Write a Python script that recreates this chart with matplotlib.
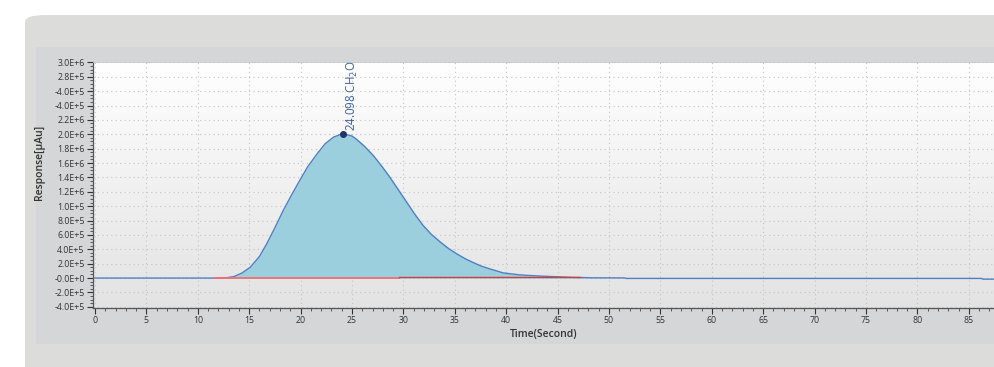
import matplotlib
matplotlib.use("Agg")
import matplotlib.pyplot as plt
import numpy as np
from matplotlib.patches import FancyBboxPatch, Rectangle
from matplotlib.colors import LinearSegmentedColormap
from matplotlib.ticker import MultipleLocator

plt.rcParams['font.family'] = ['Open Sans', 'DejaVu Sans']

# signal (time in s, response in uAu)
time = [0, 12.0, 12.8, 13.5, 14.3, 15.1, 16.0, 16.7, 17.5, 18.3, 19.1, 19.9,
        20.7, 21.6, 22.4, 23.2, 24.1, 25.0, 25.4, 26.2, 27.1, 27.9, 28.7,
        29.5, 30.3, 31.1, 31.9, 32.7, 33.6, 34.4, 35.2, 36.0, 36.8, 37.6,
        38.4, 39.7, 41.3, 43.0, 44.6, 46.2, 48.5, 51.5, 51.7, 86.2, 86.4, 87.6]
response = [0, 0, 5e3, 2e4, 7e4, 1.5e5, 3.0e5, 4.75e5, 7.0e5, 9.37e5, 1.15e6,
            1.354e6, 1.55e6, 1.727e6, 1.87e6, 1.96e6, 2.01e6, 1.975e6, 1.935e6,
            1.835e6, 1.70e6, 1.555e6, 1.40e6, 1.23e6, 1.06e6, 8.9e5, 7.35e5,
            6.1e5, 5.0e5, 4.1e5, 3.36e5, 2.7e5, 2.15e5, 1.65e5, 1.28e5, 7.2e4,
            4.4e4, 3.0e4, 2.0e4, 1.1e4, 3e3, 2e3, -5e3, -5e3, -1.5e4, -1.5e4]

# integration baseline segments
base1_t = [11.7, 29.6]
base1_v = [-4e3, -4e3]
base2_t = [29.6, 47.2]
base2_v = [1.2e4, 1.2e4]

peak_t = 24.098
peak_v = 2.01e6
peak_label = "24.098 CH$_2$O"

ytick_vals = [3.0e6, 2.8e6, 2.6e6, 2.4e6, 2.2e6, 2.0e6, 1.8e6, 1.6e6, 1.4e6,
              1.2e6, 1.0e6, 8.0e5, 6.0e5, 4.0e5, 2.0e5, 0.0, -2.0e5, -4.0e5]
ytick_labels = ["3.0E+6", "2.8E+5", "-4.0E+5", "-4.0E+5", "2.2E+6", "2.0E+6",
                "1.8E+6", "1.6E+6", "1.4E+6", "1.2E+6", "1.0E+5", "8.0E+5",
                "6.0E+5", "4.0E+5", "2.0E+5", "-0.0E+0", "-2.0E+5", "-4.0E+5"]
xtick_vals = list(range(0, 90, 5))

fig = plt.figure(figsize=(9.95, 3.67), dpi=100)
fig.patch.set_facecolor('white')

# outer and inner panels drawn in a background axes
bg = fig.add_axes([0, 0, 1, 1], zorder=-5)
bg.set_axis_off()
bg.set_xlim(0, 1)
bg.set_ylim(0, 1)
bg.add_patch(FancyBboxPatch((0.0251, -0.1), 1.2, 1.059, boxstyle="round,pad=0,rounding_size=0.02",
                            facecolor='#dcdcdb', edgecolor='none'))
bg.add_patch(Rectangle((0.0362, 0.0627), 1.0, 0.8093, facecolor='#d5d6d7', edgecolor='none'))

ax = fig.add_axes([0.0935, 0.162, 0.9065, 0.670], zorder=1)
ax.set_facecolor('none')
xlim = (-0.19, 87.55)
ylim = (-4.1e5, 3.01e6)

grad = np.linspace(1, 0, 256).reshape(-1, 1)
cm = LinearSegmentedColormap.from_list('bg', ['#e3e3e3', '#ffffff'])
ax.imshow(grad, extent=[xlim[0], xlim[1], ylim[0], ylim[1]], aspect='auto',
          cmap=cm, origin='upper', zorder=0)

ax.fill_between(time, response, 0, where=[(t >= 12.0) and (t <= 47.5) for t in time],
                color='#9ccfdd', linewidth=0, zorder=2, interpolate=True)
ax.plot(time, response, color='#4f7fc4', lw=1.0, zorder=3)
ax.plot(base1_t, base1_v, color='#f07070', lw=1.3, zorder=4)
ax.plot(base2_t, base2_v, color='#cc3f3f', lw=1.0, zorder=4)

ax.plot([peak_t], [peak_v], 'o', color='#1f3566', ms=4, zorder=5)
ax.annotate(peak_label, (peak_t, peak_v), xytext=(1.5, 2), textcoords='offset points',
            rotation=90, ha='left', va='bottom', fontsize=8.3, color='#3a62a8')

ax.set_xlim(*xlim)
ax.set_ylim(*ylim)
ax.set_xticks(xtick_vals)
ax.xaxis.set_minor_locator(MultipleLocator(1))
ax.set_yticks(ytick_vals)
ax.set_yticklabels(ytick_labels)
ax.yaxis.set_minor_locator(MultipleLocator(5e4))

ax.grid(True, which='major', color='#c4c4c4', linestyle=(0, (1, 3)), lw=0.8)
ax.tick_params(axis='both', which='major', labelsize=6.3, colors='#333333', length=4, width=0.8, pad=2)
ax.tick_params(axis='both', which='minor', length=2.5, width=0.6, colors='#444444')
for side in ['left', 'bottom']:
    ax.spines[side].set_color('#555555')
    ax.spines[side].set_linewidth(0.9)
ax.spines['top'].set_color('#c8c8c8')
ax.spines['top'].set_linewidth(0.6)
ax.spines['right'].set_visible(False)

ax.set_xlabel('Time(Second)', fontsize=7.5, color='#333333', fontweight='semibold', labelpad=3)
ax.set_ylabel('Response[μAu]', fontsize=7.5, color='#333333', fontweight='semibold')
ax.yaxis.set_label_coords(-0.053, 0.59)

fig.savefig('out.png', dpi=100)
